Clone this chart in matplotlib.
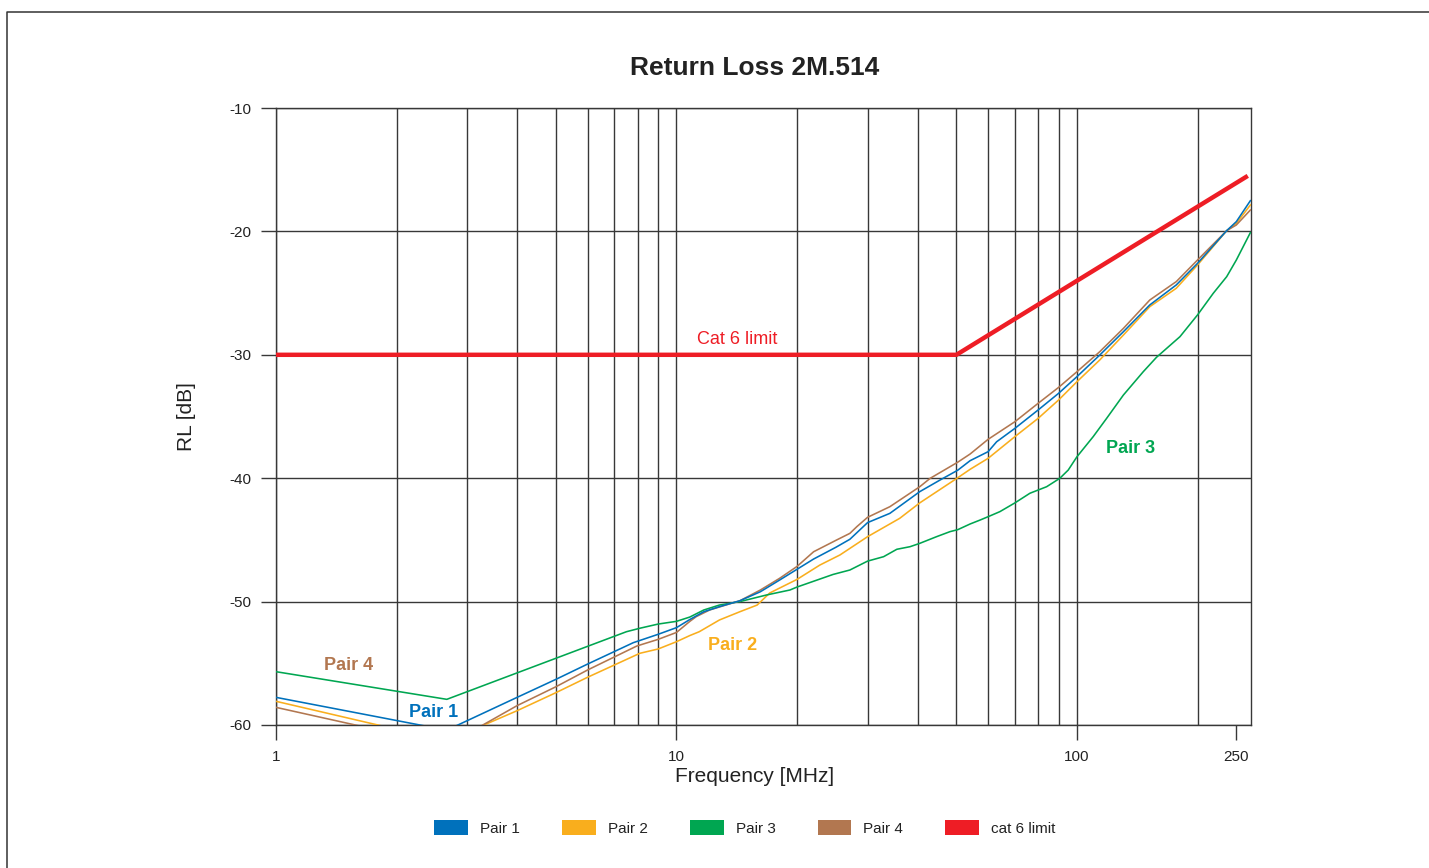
import matplotlib
matplotlib.use("Agg")
import matplotlib.pyplot as plt
from matplotlib.lines import Line2D
from matplotlib.patches import Patch

plt.rcParams['font.family'] = ['Liberation Sans', 'DejaVu Sans']

# ---- measured return loss per pair (frequency in MHz, RL in dB) ----
freq_pair1 = [1.0, 2.67, 4.0, 5.0, 6.0, 7.8, 9.0, 10.0, 10.8, 11.7, 12.8, 14.4, 16.2, 18.1,
              20.0, 22.0, 25.0, 27.1, 30.0, 34.1, 40.5, 45.5, 50.4, 54.1, 60.0, 63.0, 70.0,
              80.0, 90.0, 100.0, 114.0, 130.6, 152.0, 177.0, 200.0, 236.5, 250.0, 271.0]
rl_pair1 = [-57.76, -60.42, -57.76, -56.30, -55.06, -53.33, -52.65, -52.11, -51.45, -50.82,
            -50.41, -49.93, -49.20, -48.25, -47.38, -46.55, -45.60, -44.95, -43.60, -42.85,
            -41.09, -40.15, -39.35, -38.58, -37.85, -37.05, -35.96, -34.47, -33.12, -31.77,
            -30.02, -28.13, -25.96, -24.34, -22.59, -19.94, -19.21, -17.51]

freq_pair2 = [1.0, 2.67, 4.0, 5.0, 6.0, 8.1, 9.0, 10.0, 10.8, 11.4, 12.8, 14.4, 15.9, 17.1,
              20.0, 22.8, 25.6, 30.0, 36.1, 40.5, 50.2, 54.1, 60.0, 70.0, 80.0, 90.0, 100.0,
              114.0, 130.6, 152.0, 177.0, 200.0, 236.5, 250.0, 271.0]
rl_pair2 = [-58.08, -61.30, -58.84, -57.38, -56.13, -54.19, -53.84, -53.25, -52.75, -52.44,
            -51.49, -50.82, -50.28, -49.30, -48.20, -47.04, -46.22, -44.74, -43.25, -42.00,
            -40.00, -39.28, -38.39, -36.63, -35.15, -33.66, -32.18, -30.42, -28.40, -26.10,
            -24.61, -22.72, -19.94, -19.35, -17.86]

freq_pair3 = [1.0, 2.67, 7.5, 8.1, 9.0, 10.0, 10.8, 11.7, 12.8, 14.4, 16.8, 19.2, 20.0, 24.6,
              27.1, 30.0, 32.9, 35.5, 38.3, 40.5, 44.6, 48.2, 50.4, 54.1, 57.3, 60.0, 64.2,
              70.0, 76.3, 84.0, 90.6, 95.1, 100.0, 109.8, 118.6, 130.6, 146.4, 158.0, 180.8,
              200.0, 218.9, 236.5, 250.0, 271.0]
rl_pair3 = [-55.68, -57.92, -52.44, -52.16, -51.82, -51.60, -51.25, -50.68, -50.28, -50.00,
            -49.46, -49.06, -48.82, -47.80, -47.44, -46.72, -46.36, -45.76, -45.55, -45.28,
            -44.74, -44.33, -44.17, -43.71, -43.39, -43.12, -42.71, -42.00, -41.22, -40.69,
            -40.01, -39.34, -38.26, -36.63, -35.15, -33.26, -31.37, -30.20, -28.53, -26.77,
            -25.02, -23.67, -22.32, -20.10]

freq_pair4 = [1.0, 2.67, 4.0, 5.0, 6.0, 7.96, 9.0, 10.0, 10.8, 11.2, 12.1, 14.4, 16.2, 18.1,
              20.0, 22.0, 25.1, 27.1, 28.2, 30.0, 34.1, 40.5, 43.0, 50.4, 54.1, 60.0, 70.0,
              80.0, 90.0, 100.0, 114.0, 130.6, 152.0, 177.0, 200.0, 236.5, 250.0, 271.0]
rl_pair4 = [-58.57, -61.65, -58.43, -56.90, -55.54, -53.60, -53.06, -52.50, -51.60, -51.22,
            -50.68, -49.93, -49.06, -48.11, -47.15, -45.96, -45.01, -44.47, -43.93, -43.17,
            -42.31, -40.69, -40.01, -38.70, -38.04, -36.85, -35.42, -33.93, -32.64, -31.37,
            -29.75, -27.86, -25.56, -24.07, -22.32, -19.94, -19.48, -18.27]

# Cat 6 return loss limit
freq_limit = [1.0, 50.0, 267.0]
rl_limit = [-30.0, -30.0, -15.5]

series_labels = ["Pair 1", "Pair 2", "Pair 3", "Pair 4", "cat 6 limit"]
x_tick_values = [1, 10, 100, 250]
x_tick_labels = ["1", "10", "100", "250"]
y_tick_values = [-10, -20, -30, -40, -50, -60]

# ---- styling ----
C_BLUE = "#0071BC"
C_ORANGE = "#F9AE1D"
C_GREEN = "#00A651"
C_BROWN = "#B27750"
C_RED = "#EE1D25"
GRID_C = "#383838"
TXT_C = "#222222"

W, H = 1429, 868
fig = plt.figure(figsize=(W / 100, H / 100), dpi=100)

# outer frame (top and left edges)
fig.add_artist(Line2D([7 / W, 7 / W, 1.0], [0.0, 1 - 12 / H, 1 - 12 / H],
                      transform=fig.transFigure, color="#333333", lw=1.1))

L, R, T, B = 276, 1251, 108, 725
ax = fig.add_axes([L / W, 1 - B / H, (R - L) / W, (B - T) / H])
ax.set_xscale("log")
ax.set_xlim(1, 272)
ax.set_ylim(-60, -10)

# grid
grid_x = [d * 10 ** k for k in range(3) for d in range(1, 10) if d * 10 ** k <= 200]
for gx in grid_x:
    ax.axvline(gx, color=GRID_C, lw=1.0, zorder=1)
for gy in y_tick_values:
    ax.axhline(gy, color=GRID_C, lw=1.0, zorder=1)

for s in ax.spines.values():
    s.set_color(GRID_C)
    s.set_linewidth(1.0)

ax.xaxis.set_major_locator(matplotlib.ticker.FixedLocator(x_tick_values))
ax.xaxis.set_major_formatter(matplotlib.ticker.FixedFormatter(x_tick_labels))
ax.xaxis.set_minor_locator(matplotlib.ticker.NullLocator())
ax.set_yticks(y_tick_values)
ax.set_yticklabels([str(v) for v in y_tick_values])
ax.tick_params(axis="both", direction="out", length=11, width=1.0, color=GRID_C,
               labelsize=11, labelcolor=TXT_C, pad=7)

# data
lw = 1.15
ax.plot(freq_pair1, rl_pair1, color=C_BLUE, lw=lw, zorder=4)
ax.plot(freq_pair2, rl_pair2, color=C_ORANGE, lw=lw, zorder=3)
ax.plot(freq_pair3, rl_pair3, color=C_GREEN, lw=lw, zorder=3)
ax.plot(freq_pair4, rl_pair4, color=C_BROWN, lw=lw, zorder=3)
ax.plot(freq_limit, rl_limit, color=C_RED, lw=3.2, zorder=5, solid_capstyle="butt")

# in-plot labels
ax.text(14.16, -28.72, "Cat 6 limit", color=C_RED, fontsize=13, ha="center", va="center")
ax.text(136.4, -37.63, "Pair 3", color=C_GREEN, fontsize=13, fontweight="bold",
        ha="center", va="center")
ax.text(13.84, -53.52, "Pair 2", color=C_ORANGE, fontsize=13, fontweight="bold",
        ha="center", va="center")
ax.text(1.52, -55.14, "Pair 4", color=C_BROWN, fontsize=13, fontweight="bold",
        ha="center", va="center")
ax.text(2.48, -58.95, "Pair 1", color=C_BLUE, fontsize=13, fontweight="bold",
        ha="center", va="center")

# titles
fig.text(755 / W, 1 - 68 / H, "Return Loss 2M.514", fontsize=19, fontweight="bold",
         color=TXT_C, ha="center", va="center")
fig.text(755 / W, 1 - 777 / H, "Frequency [MHz]", fontsize=15, color=TXT_C,
         ha="center", va="center")
fig.text(186 / W, 1 - 417 / H, "RL [dB]", fontsize=15, color=TXT_C, rotation=90,
         ha="center", va="center")

# legend
handles = [Patch(facecolor=c, edgecolor="none")
           for c in [C_BLUE, C_ORANGE, C_GREEN, C_BROWN, C_RED]]
fig.legend(handles, series_labels, loc="center", bbox_to_anchor=(745 / W, 1 - 828 / H),
           ncol=5, frameon=False, fontsize=11, handlelength=2.2, handleheight=1.1,
           handletextpad=0.8, columnspacing=2.75, labelcolor=TXT_C)

fig.savefig("out.png", dpi=100, facecolor="white")
